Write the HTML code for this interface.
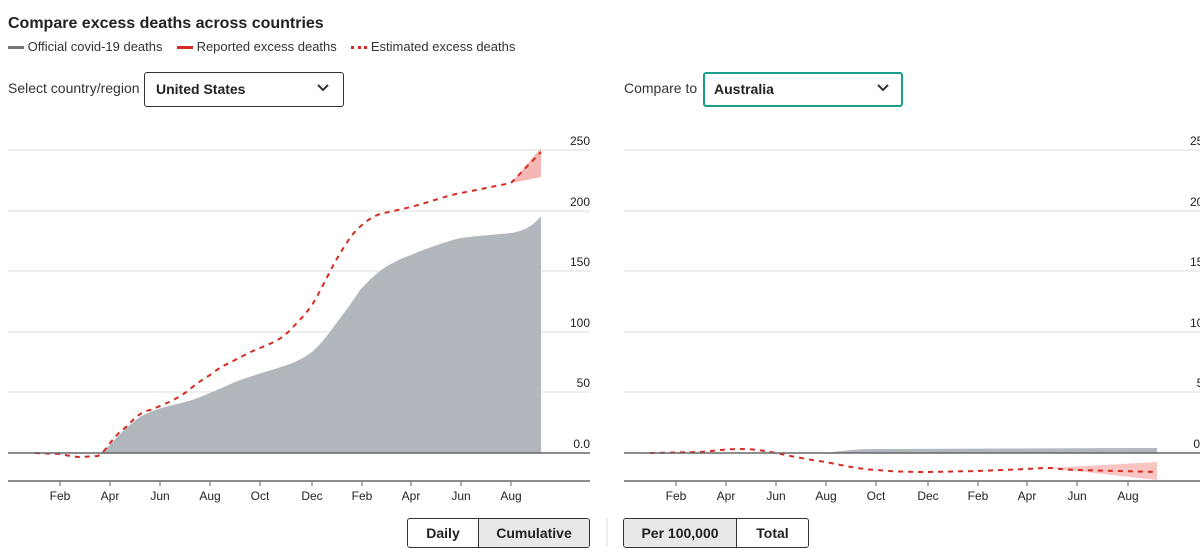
<!DOCTYPE html>
<html><head><meta charset="utf-8"><style>
body{margin:0;width:1200px;height:557px;overflow:hidden;background:#fff;font-family:"Liberation Sans",sans-serif;color:#222}
.t{position:absolute;white-space:nowrap}
.sel{position:absolute;border:1px solid #333;border-radius:3px;background:#fff;font-weight:bold;font-size:14px}
.btn{position:absolute;top:518px;height:28px;border:1px solid #333;border-radius:3px;display:flex;overflow:hidden;font-weight:bold;font-size:14px}
.btn div{display:flex;align-items:center;justify-content:center}
</style></head><body>
<div class="t" style="left:8px;top:15px;font-size:16px;font-weight:bold">Compare excess deaths across countries</div>
<div class="t" style="left:8px;top:39px;font-size:13px;color:#333">
<span style="display:inline-block;width:16px;height:3px;background:#6f757b;vertical-align:middle"></span> Official covid-19 deaths &nbsp;&nbsp;
<span style="display:inline-block;width:16px;height:3px;background:#d42b22;vertical-align:middle"></span> Reported excess deaths &nbsp;&nbsp;
<span style="display:inline-block;width:16px;border-top:3px dotted #d42b22;vertical-align:middle"></span> Estimated excess deaths</div>
<div class="t" style="left:8px;top:80px;font-size:14px;color:#333">Select country/region</div>
<div class="sel" style="left:144px;top:72px;width:198px;height:33px"><span style="position:absolute;left:11px;top:8px">United States</span><svg style="position:absolute;right:14px;top:11px" width="12" height="8"><path d="M1 1l5 5 5-5" stroke="#333" stroke-width="2" fill="none"/></svg></div>
<div class="t" style="left:624px;top:80px;font-size:14px;color:#333">Compare to</div>
<div class="sel" style="left:703px;top:72px;width:196px;height:31px;border:2px solid #1a9e8c"><span style="position:absolute;left:9px;top:7px">Australia</span><svg style="position:absolute;right:12px;top:10px" width="12" height="8"><path d="M1 1l5 5 5-5" stroke="#333" stroke-width="2" fill="none"/></svg></div>

<svg style="position:absolute;left:0;top:0" width="1200" height="557" font-family="Liberation Sans, sans-serif" font-size="12" fill="#222">
<g stroke="#ddd" stroke-width="1">
<line x1="8" x2="590" y1="150" y2="150"/><line x1="8" x2="590" y1="211" y2="211"/><line x1="8" x2="590" y1="271" y2="271"/><line x1="8" x2="590" y1="332" y2="332"/><line x1="8" x2="590" y1="392" y2="392"/>
<line x1="624" x2="1200" y1="150" y2="150"/><line x1="624" x2="1200" y1="211" y2="211"/><line x1="624" x2="1200" y1="271" y2="271"/><line x1="624" x2="1200" y1="332" y2="332"/><line x1="624" x2="1200" y1="392" y2="392"/>
</g>
<g text-anchor="end">
<text x="590" y="145">250</text><text x="590" y="206">200</text><text x="590" y="266">150</text><text x="590" y="327">100</text><text x="590" y="387">50</text><text x="590" y="448">0.0</text>
<text x="1210" y="145">250</text><text x="1210" y="206">200</text><text x="1210" y="266">150</text><text x="1210" y="327">100</text><text x="1210" y="387">50</text><text x="1210" y="448">0.0</text>
</g>
<path d="M100,453 L110,445 C118,436 125,428 140,417 C150,411 160,408 185,402 C200,398 210,393 235,382 C250,376 260,374 290,364 C300,360 305,357 312,352 C322,343 330,332 335,325 C345,312 355,298 360,290 C366,284 370,279 372,278 C380,270 388,265 395,262 C400,259 405,257 411,255 C425,249 435,246 440,244 C450,241 455,239 461,238 C475,236 490,235 511,233 C525,231 535,224 541,216 L541,453 Z" fill="#b1b7bc"/>
<path d="M511,183 L541,148 L541,177 Z" fill="#f4b7b3"/>
<path d="M35,453 L60,454 C70,456 75,457 80,457 L98,456 C104,452 107,447 110,443 C116,436 120,431 125,428 C135,418 140,412 150,410 C165,404 175,400 185,393 C195,385 200,381 210,375 C220,367 227,364 235,360 C245,355 252,351 260,348 C275,342 283,338 290,330 C298,322 305,315 312,305 C320,292 328,275 335,262 C345,245 352,233 362,225 C370,218 375,216 380,214 L411,207 C430,202 445,196 461,193 L511,183 L541,152" fill="none" stroke="#d42b22" stroke-width="2" stroke-dasharray="5,5"/>
<path d="M820,453 C840,452 850,449 876,449 L1157,448 L1157,453 Z" fill="#b1b7bc"/>
<path d="M1050,468 L1157,462 L1157,480 Z" fill="#f8c6c2"/>
<path d="M650,453 L700,452 C715,451 725,449 740,449 C755,449 765,451 776,453 C790,456 810,460 826,462 C845,466 860,469 876,470 C900,472 915,472 928,472 L978,471 L1027,469 C1040,468 1045,468 1050,468 C1060,469 1070,470 1077,470 L1157,472" fill="none" stroke="#d42b22" stroke-width="2" stroke-dasharray="5,5"/>
<g stroke="#666" stroke-width="1.5">
<line x1="8" x2="590" y1="453" y2="453"/><line x1="624" x2="1200" y1="453" y2="453"/>
<line x1="8" x2="590" y1="481" y2="481"/><line x1="624" x2="1200" y1="481" y2="481"/>
</g>
<g stroke="#666" stroke-width="1">
<path d="M60,481v5M110,481v5M160,481v5M210,481v5M260,481v5M312,481v5M362,481v5M411,481v5M461,481v5M511,481v5"/>
<path d="M676,481v5M726,481v5M776,481v5M826,481v5M876,481v5M928,481v5M978,481v5M1027,481v5M1077,481v5M1128,481v5"/>
</g>
<g text-anchor="middle">
<text x="60" y="500">Feb</text><text x="110" y="500">Apr</text><text x="160" y="500">Jun</text><text x="210" y="500">Aug</text><text x="260" y="500">Oct</text><text x="312" y="500">Dec</text><text x="362" y="500">Feb</text><text x="411" y="500">Apr</text><text x="461" y="500">Jun</text><text x="511" y="500">Aug</text>
<text x="676" y="500">Feb</text><text x="726" y="500">Apr</text><text x="776" y="500">Jun</text><text x="826" y="500">Aug</text><text x="876" y="500">Oct</text><text x="928" y="500">Dec</text><text x="978" y="500">Feb</text><text x="1027" y="500">Apr</text><text x="1077" y="500">Jun</text><text x="1128" y="500">Aug</text>
</g>
<line x1="607" x2="607" y1="518" y2="547" stroke="#ddd"/>
</svg>
<div class="btn" style="left:407px;width:181px"><div style="width:70px;border-right:1px solid #333">Daily</div><div style="flex:1;background:#e8e8e8">Cumulative</div></div>
<div class="btn" style="left:623px;width:184px"><div style="width:112px;border-right:1px solid #333;background:#e8e8e8">Per 100,000</div><div style="flex:1">Total</div></div>
</body></html>
